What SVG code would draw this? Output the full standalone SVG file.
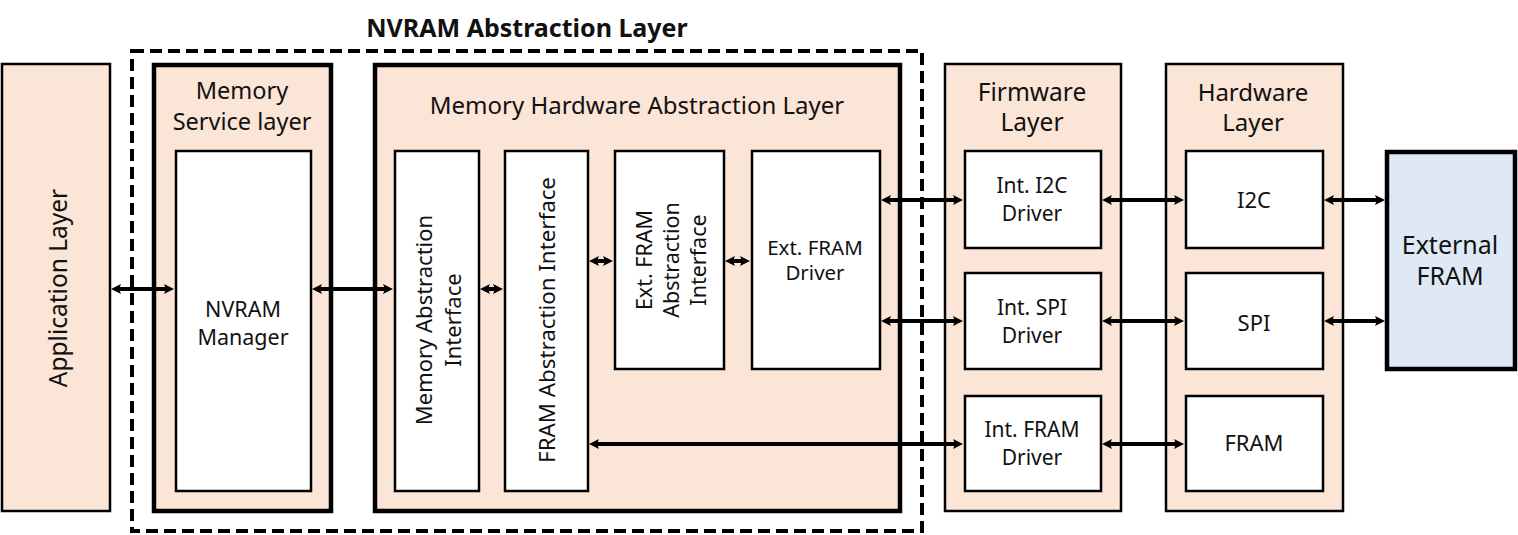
<svg xmlns="http://www.w3.org/2000/svg" width="1518" height="535" viewBox="0 0 1518 535">
<style>
.t{font-family:"Noto Sans","Liberation Sans",sans-serif;fill:#111;text-anchor:middle;dominant-baseline:central}
.layer{fill:#FBE5D6;stroke:#000;stroke-width:2.5}
.thick{fill:#FBE5D6;stroke:#000;stroke-width:4.5}
.inner{fill:#fff;stroke:#000;stroke-width:2.5}
.ext{fill:#DEE9F5;stroke:#000;stroke-width:4.5}
.c{stroke:#000;stroke-width:4;fill:none;marker-start:url(#ah);marker-end:url(#ah)}
</style>
<defs>
<marker id="ah" viewBox="0 0 10 10" refX="4" refY="5" markerWidth="10" markerHeight="10" markerUnits="userSpaceOnUse" orient="auto-start-reverse">
<path d="M0,0 L10,5 L0,10 L2,5 z" fill="#000"/>
</marker>
</defs>

<text class="t" x="527" y="27" font-size="25" font-weight="bold">NVRAM Abstraction Layer</text>
<rect x="132" y="51" width="790" height="480" fill="none" stroke="#000" stroke-width="4" stroke-dasharray="12 6"/>

<g id="app">
<rect class="layer" x="2" y="64" width="108" height="447"/>
<text class="t" font-size="24.5" transform="rotate(-90 57 288)" x="57" y="288">Application Layer</text>
</g>

<g id="msl">
<rect class="thick" x="154" y="65" width="177" height="446"/>
<text class="t" x="242" y="90" font-size="23.5">Memory</text>
<text class="t" x="242" y="121" font-size="23.5">Service layer</text>
</g>
<g id="nvram">
<rect class="inner" x="176" y="151" width="135" height="340"/>
<text class="t" x="243" y="308" font-size="21.5">NVRAM</text>
<text class="t" x="243" y="336" font-size="21.5">Manager</text>
</g>

<g id="mhal">
<rect class="thick" x="375" y="65" width="525" height="446"/>
<text class="t" x="637" y="104" font-size="24">Memory Hardware Abstraction Layer</text>
</g>
<g id="mai">
<rect class="inner" x="395" y="151" width="84" height="340"/>
<text class="t" font-size="22" transform="rotate(-90 423 320)" x="423" y="320">Memory Abstraction</text>
<text class="t" font-size="22" transform="rotate(-90 452 320)" x="452" y="320">Interface</text>
</g>
<g id="fai">
<rect class="inner" x="505" y="151" width="83" height="340"/>
<text class="t" font-size="22.3" transform="rotate(-90 546 320)" x="546" y="320">FRAM Abstraction Interface</text>
</g>
<g id="efai">
<rect class="inner" x="615" y="151" width="109" height="218"/>
<text class="t" font-size="21.5" transform="rotate(-90 643 260)" x="643" y="260">Ext. FRAM</text>
<text class="t" font-size="21.5" transform="rotate(-90 670 260)" x="670" y="260">Abstraction</text>
<text class="t" font-size="21.5" transform="rotate(-90 697 260)" x="697" y="260">Interface</text>
</g>
<g id="efd">
<rect class="inner" x="752" y="151" width="128" height="218"/>
<text class="t" x="815" y="247" font-size="20.5">Ext. FRAM</text>
<text class="t" x="815" y="272" font-size="20.5">Driver</text>
</g>

<g id="fw">
<rect class="layer" x="945" y="64" width="176" height="447"/>
<text class="t" x="1032" y="91" font-size="24.5">Firmware</text>
<text class="t" x="1032" y="121" font-size="24.5">Layer</text>
</g>
<g id="i2cdrv">
<rect class="inner" x="965" y="151" width="136" height="97"/>
<text class="t" x="1032" y="185" font-size="21">Int. I2C</text>
<text class="t" x="1032" y="213" font-size="21">Driver</text>
</g>
<g id="spidrv">
<rect class="inner" x="965" y="273" width="136" height="96"/>
<text class="t" x="1032" y="307" font-size="21">Int. SPI</text>
<text class="t" x="1032" y="335" font-size="21">Driver</text>
</g>
<g id="framdrv">
<rect class="inner" x="965" y="396" width="136" height="95"/>
<text class="t" x="1032" y="429" font-size="21">Int. FRAM</text>
<text class="t" x="1032" y="457" font-size="21">Driver</text>
</g>

<g id="hw">
<rect class="layer" x="1166" y="64" width="177" height="447"/>
<text class="t" x="1253" y="91" font-size="24">Hardware</text>
<text class="t" x="1253" y="121" font-size="24">Layer</text>
</g>
<g id="i2c">
<rect class="inner" x="1186" y="151" width="137" height="97"/>
<text class="t" x="1254" y="199" font-size="22">I2C</text>
</g>
<g id="spi">
<rect class="inner" x="1186" y="273" width="137" height="96"/>
<text class="t" x="1254" y="322" font-size="22">SPI</text>
</g>
<g id="fram">
<rect class="inner" x="1186" y="396" width="137" height="95"/>
<text class="t" x="1254" y="442" font-size="22">FRAM</text>
</g>

<g id="extfram">
<rect class="ext" x="1387" y="152" width="128" height="217"/>
<text class="t" x="1450" y="244" font-size="25">External</text>
<text class="t" x="1450" y="275" font-size="25">FRAM</text>
</g>

<g id="connectors">
<line class="c" x1="117" y1="289" x2="168" y2="289"/>
<line class="c" x1="318" y1="289" x2="387" y2="289"/>
<line class="c" x1="486" y1="289" x2="497" y2="289"/>
<line class="c" x1="595" y1="261" x2="607" y2="261"/>
<line class="c" x1="731" y1="261" x2="744" y2="261"/>
<line class="c" x1="887" y1="200" x2="957" y2="200"/>
<line class="c" x1="887" y1="321" x2="957" y2="321"/>
<line class="c" x1="595" y1="444" x2="957" y2="444"/>
<line class="c" x1="1108" y1="200" x2="1178" y2="200"/>
<line class="c" x1="1108" y1="321" x2="1178" y2="321"/>
<line class="c" x1="1108" y1="444" x2="1178" y2="444"/>
<line class="c" x1="1330" y1="200" x2="1379" y2="200"/>
<line class="c" x1="1330" y1="321" x2="1379" y2="321"/>
</g>
</svg>
